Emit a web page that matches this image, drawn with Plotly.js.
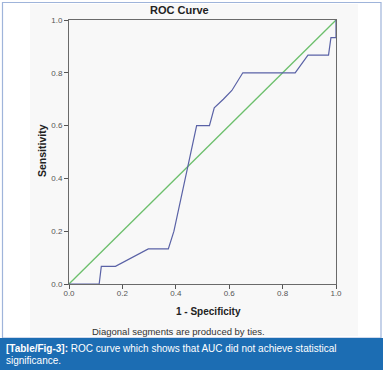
<!DOCTYPE html>
<html><head><meta charset="utf-8">
<script src="https://cdn.plot.ly/plotly-3.0.1.min.js"></script>
<style>html,body{margin:0;padding:0;background:#fff;}#c{width:383px;height:370px;}</style>
</head><body><div id="c"></div>
<script>
const fpr = [0, 0.113, 0.121, 0.174, 0.297, 0.372, 0.393, 0.478, 0.526, 0.544, 0.578, 0.61, 0.651, 0.847, 0.895, 0.972, 0.981, 1.0, 1.0];
const tpr = [0, 0, 0.0667, 0.0667, 0.133, 0.133, 0.2, 0.6, 0.6, 0.667, 0.7, 0.733, 0.8, 0.8, 0.867, 0.867, 0.933, 0.933, 1.0];
const refX = [0, 1];
const refY = [0, 1];
const tickVals = [0, 0.2, 0.4, 0.6, 0.8, 1.0];
const tickText = ['0.0', '0.2', '0.4', '0.6', '0.8', '1.0'];

const W = 383, H = 370, L = 69, R = 47, T = 20, B = 86;
const pw = W - L - R, ph = H - T - B;
const px = x => (x - L) / pw;
const py = y => (H - B - y) / ph;
const FONT = 'Liberation Sans, Arial, sans-serif';

const traces = [
  {x: refX, y: refY, mode: 'lines', line: {color: '#6cbf6c', width: 1.3}, hoverinfo: 'skip'},
  {x: fpr, y: tpr, mode: 'lines', line: {color: '#5a62a6', width: 1.2}, hoverinfo: 'skip'}
];

const axisBase = {
  range: [0, 1], tickvals: tickVals, ticktext: tickText,
  showgrid: false, zeroline: false, showline: true, linecolor: '#6a6a6a', linewidth: 1,
  mirror: true, ticks: 'outside', ticklen: 4, tickcolor: '#555', tickwidth: 1,
  tickfont: {family: FONT, size: 8, color: '#555'}
};

const layout = {
  width: W, height: H,
  margin: {l: L, r: R, t: T, b: B},
  paper_bgcolor: '#ffffff', plot_bgcolor: '#f0f0ef',
  showlegend: false,
  xaxis: Object.assign({}, axisBase, {ticklabelstandoff: -3}),
  yaxis: Object.assign({}, axisBase),
  shapes: [
    {type: 'rect', xref: 'paper', yref: 'paper', x0: px(30), x1: px(358), y0: py(336), y1: py(4), fillcolor: '#f8f8f8', line: {width: 0}, layer: 'below'},
    {type: 'rect', xref: 'paper', yref: 'paper', x0: px(2.5), x1: px(381), y0: py(338), y1: py(2.5), fillcolor: 'rgba(0,0,0,0)', line: {color: '#9fb4da', width: 1.2}, layer: 'above'},
    {type: 'rect', xref: 'paper', yref: 'paper', x0: px(0), x1: px(383), y0: py(370), y1: py(338), fillcolor: '#1c6db3', line: {width: 0}, layer: 'above'}
  ],
  annotations: [
    {xref: 'paper', yref: 'paper', x: px(179), y: py(10), text: '<b>ROC Curve</b>', showarrow: false,
     font: {family: FONT, size: 11, color: '#222'}, xanchor: 'center', yanchor: 'middle'},
    {xref: 'paper', yref: 'paper', x: px(42), y: py(151), text: '<b>Sensitivity</b>', showarrow: false, textangle: -90,
     font: {family: FONT, size: 10.5, color: '#222'}, xanchor: 'center', yanchor: 'middle'},
    {xref: 'paper', yref: 'paper', x: px(208), y: py(311), text: '<b>1 - Specificity</b>', showarrow: false,
     font: {family: FONT, size: 10, color: '#222'}, xanchor: 'center', yanchor: 'middle'},
    {xref: 'paper', yref: 'paper', x: px(178), y: py(331), text: 'Diagonal segments are produced by ties.', showarrow: false,
     font: {family: FONT, size: 9.5, color: '#333'}, xanchor: 'center', yanchor: 'middle'},
    {xref: 'paper', yref: 'paper', x: px(4), y: py(348), text: '<b>[Table/Fig-3]:</b> ROC curve which shows that AUC did not achieve statistical', showarrow: false,
     font: {family: FONT, size: 10, color: '#ffffff'}, xanchor: 'left', yanchor: 'middle'},
    {xref: 'paper', yref: 'paper', x: px(4), y: py(360), text: 'significance.', showarrow: false,
     font: {family: FONT, size: 10, color: '#ffffff'}, xanchor: 'left', yanchor: 'middle'}
  ]
};

Plotly.newPlot('c', traces, layout, {staticPlot: true, displayModeBar: false});
</script>
</body></html>
